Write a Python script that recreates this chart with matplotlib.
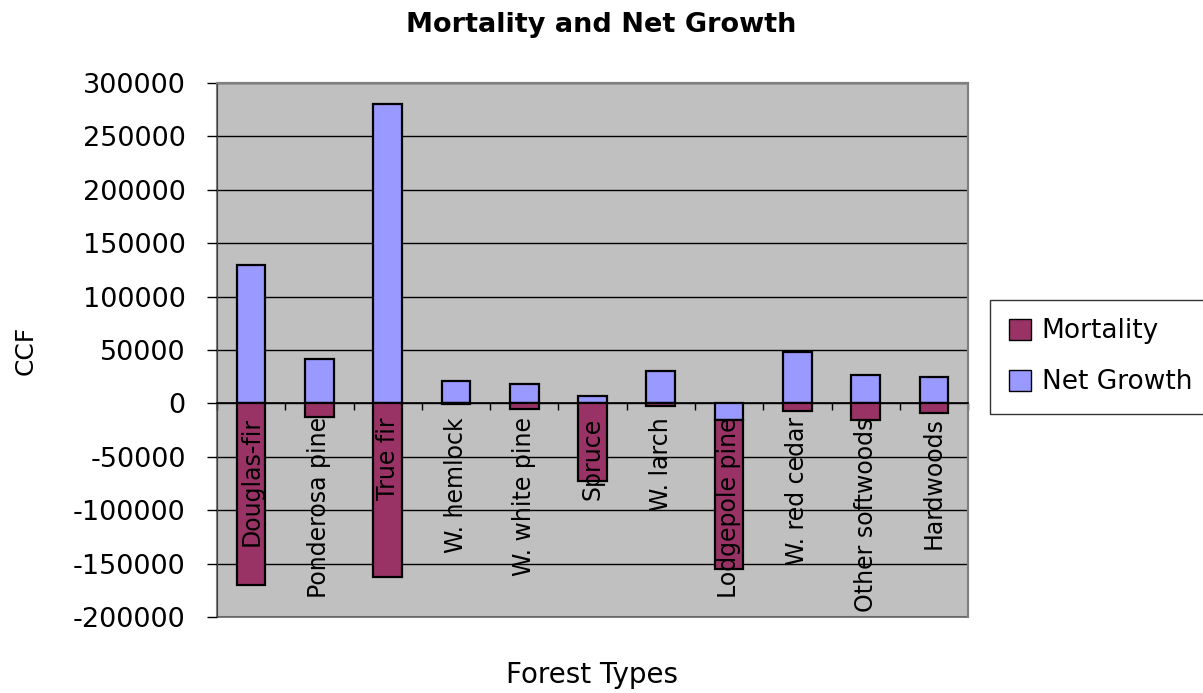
import numpy as np
import matplotlib.pyplot as plt
from matplotlib.patches import Patch

# datos (CCF)
categorias = ['Douglas-fir', 'Ponderosa pine', 'True fir', 'W. hemlock', 'W. white pine',
	'Spruce', 'W. larch', 'Lodgepole pine', 'W. red cedar', 'Other softwoods', 'Hardwoods']
net_growth = [130000, 42000, 280000, 21000, 18000, 7000, 30000, -16000, 48000, 26500, 24500]
mortality = [-170000, -12500, -163000, -500, -5500, -73000, -2000, -139500, -7500, -16000, -9000]
yticks = list(range(-200000, 300001, 50000))

color_mort = '#993366'
color_net = '#9999FF'

plt.rcParams['font.family'] = ['DejaVu Sans']

fig = plt.figure(figsize=(12.03, 6.93), dpi=100)
ax = fig.add_axes([0.1804, 0.1097, 0.6243, 0.7706])
ax.set_facecolor('#C0C0C0')

x = np.arange(len(categorias))
ng = np.array(net_growth)
mo = np.array(mortality)

# net growth se apila primero; mortality debajo de los negativos
ax.bar(x, ng, width=0.42, color=color_net, edgecolor='black', linewidth=1.6, zorder=3)
ax.bar(x, mo, width=0.42, bottom=np.minimum(ng, 0), color=color_mort,
	edgecolor='black', linewidth=1.6, zorder=3)

ax.set_xlim(-0.5, len(categorias) - 0.5)
ax.set_ylim(yticks[0], yticks[-1])
ax.set_yticks(yticks)
ax.set_yticklabels([str(v) for v in yticks], fontsize=19.5)
ax.tick_params(axis='y', length=7.5, width=1, pad=15, color='black')
ax.yaxis.grid(True, color='black', linewidth=1)
ax.set_axisbelow(True)

# eje de categorias en el cero
ax.spines['bottom'].set_position(('data', 0))
ax.spines['bottom'].set_color('black')
ax.spines['bottom'].set_linewidth(1.2)
ax.spines['bottom'].set_zorder(4)
ax.set_xticks(x)
ax.set_xticklabels([])
ax.set_xticks(np.arange(len(categorias) + 1) - 0.5, minor=True)
ax.tick_params(axis='x', which='major', length=0)
ax.tick_params(axis='x', which='minor', length=5, width=1, color='black')

# etiquetas de categoria encima de las barras
for i, cat in enumerate(categorias):
	ax.annotate(cat, (x[i], 0), xytext=(0, -10), textcoords='offset points',
		rotation=90, ha='center', va='top', fontsize=17, zorder=6)

for s in ['top', 'right']:
	ax.spines[s].set_color('#808080')
	ax.spines[s].set_linewidth(1.5)
ax.spines['left'].set_color('#404040')
ax.patch.set_edgecolor('#808080')
ax.patch.set_linewidth(1.5)

fig.text(0.5, 0.964, 'Mortality and Net Growth', ha='center', va='center',
	fontsize=19.5, fontweight='bold')
fig.text(0.021, 0.495, 'CCF', ha='center', va='center', rotation=90, fontsize=18)
fig.text(0.4925, 0.026, 'Forest Types', ha='center', va='center', fontsize=20)

handles = [Patch(facecolor=color_mort, edgecolor='black', label='Mortality'),
	Patch(facecolor=color_net, edgecolor='black', label='Net Growth')]
leg = fig.legend(handles=handles, loc='center left', bbox_to_anchor=(0.823, 0.485),
	fontsize=19, frameon=True, fancybox=False, edgecolor='black', borderaxespad=0,
	handlelength=0.85, handleheight=0.85, handletextpad=0.4, labelspacing=0.95,
	borderpad=0.7)
leg.get_frame().set_linewidth(1)

fig.savefig('out.png', dpi=100)
